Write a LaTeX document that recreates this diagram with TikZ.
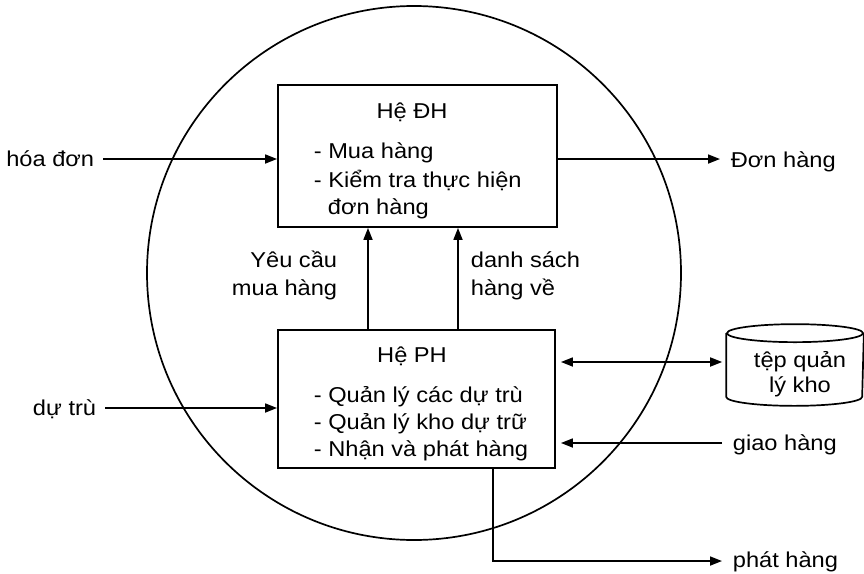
\documentclass[tikz,border=0pt]{standalone}
\usepackage{fontspec}
\setmainfont{Liberation Sans}[FakeStretch=1.1]
\usetikzlibrary{arrows.meta}
\begin{document}
\begin{tikzpicture}[x=1pt,y=-1pt,line width=1.7pt,
  every node/.style={font=\fontsize{21.5}{26}\selectfont,inner sep=0pt},
  arr/.style={-{Triangle[length=12pt,width=9pt]}},
  darr/.style={{Triangle[length=12pt,width=9pt]}-{Triangle[length=12pt,width=9pt]}},
  procbox/.style={draw,rectangle,line width=1.8pt},
  lbl/.style={anchor=base west},
  lblr/.style={anchor=base east},
  lblc/.style={anchor=base}]
\useasboundingbox (0,0) rectangle (864,573);

% system boundary
\node[draw,circle,minimum size=534pt] (sys) at (414,273) {};

% the two subsystems
\node[procbox,minimum width=279pt,minimum height=142pt] (dh) at (417.5,156) {};
\node[procbox,minimum width=277pt,minimum height=138pt] (ph) at (416.5,399) {};

\node[lblc] (dht) at (412,118) {Hệ ĐH};
\node[lbl] (dh1) at (313,158) {- Mua hàng};
\node[lbl] (dh2) at (313,187) {- Kiểm tra thực hiện};
\node[lbl] (dh3) at (327,214) {đơn hàng};

\node[lblc] (pht) at (412,362) {Hệ PH};
\node[lbl] (ph1) at (313,402) {- Quản lý các dự trù};
\node[lbl] (ph2) at (313,429) {- Quản lý kho dự trữ};
\node[lbl] (ph3) at (313,456) {- Nhận và phát hàng};

% data store (cylinder)
\node[minimum width=136pt,minimum height=62pt] (kho) at (795,365) {};
\draw (kho.north west) -- (kho.south west)
      arc[start angle=180,end angle=360,x radius=68pt,y radius=9pt] -- (kho.north east);
\draw (kho.north) ellipse[x radius=68pt,y radius=9pt];
\node[lblc] (kt1) at (800,367) {tệp quản};
\node[lblc] (kt2) at (800,392) {lý kho};

% flow labels
\node[lblr] (yc1) at (338,267) {Yêu cầu};
\node[lblr] (yc2) at (338,295) {mua hàng};
\node[lbl] (ds1) at (470,267) {danh sách};
\node[lbl] (ds2) at (470,295) {hàng về};
\node[lblr] (hoadon) at (95,166) {hóa đơn};
\node[lbl] (donhang) at (730,167) {Đơn hàng};
\node[lblr] (dutru) at (97,415) {dự trù};
\node[lbl] (giaohang) at (732,450) {giao hàng};
\node[lbl] (phathang) at (732,567) {phát hàng};

% connector end points
\coordinate (hdIn) at (103,159);
\coordinate (dhOut) at (720,159);
\coordinate (dtIn) at (105,408);
\coordinate (ghIn) at (722,443);
\coordinate (phOut) at (722,561);
\coordinate (ycX) at (368,0);
\coordinate (dsX) at (458,0);
\coordinate (khoY) at (0,362);
\coordinate (phX) at (493,0);

% flows
\draw[arr] (hdIn) -- (hdIn -| dh.west);
\draw[arr] (dhOut -| dh.east) -- (dhOut);
\draw[arr] (ycX |- ph.north) -- (ycX |- dh.south);
\draw[arr] (dsX |- ph.north) -- (dsX |- dh.south);
\draw[arr] (dtIn) -- (dtIn -| ph.west);
\draw[darr,shorten <=5pt,shorten >=4pt] (khoY -| ph.east) -- (khoY -| kho.west);
\draw[arr,shorten >=5pt] (ghIn) -- (ghIn -| ph.east);
\draw[arr] (phX |- ph.south) -- (phX |- phOut) -- (phOut);
\end{tikzpicture}
\end{document}
